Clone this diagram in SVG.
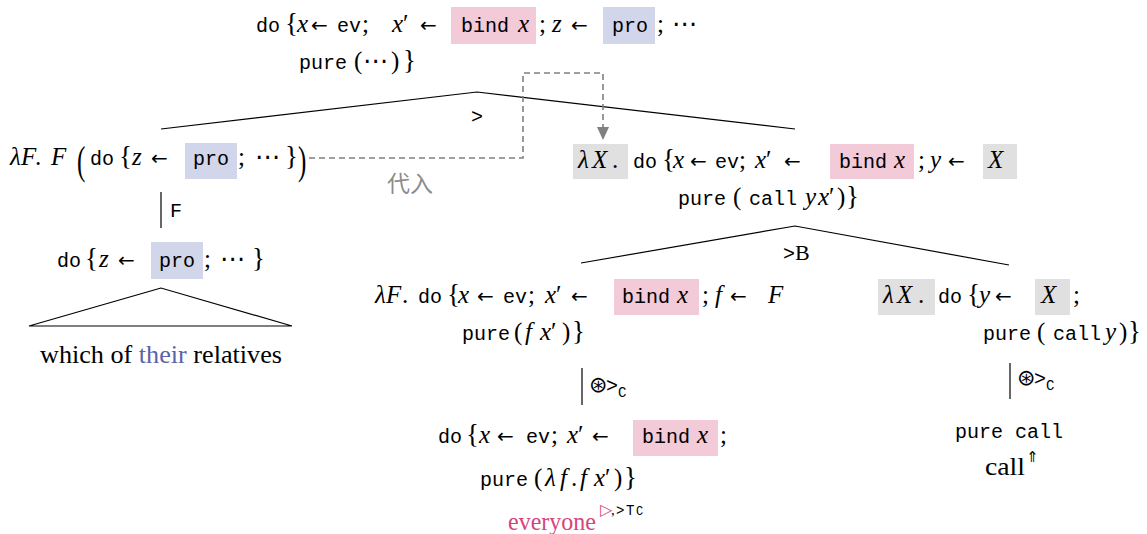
<svg xmlns="http://www.w3.org/2000/svg" width="1147" height="534" viewBox="0 0 1147 534">
<defs>
<style>
.tt{font-family:"Liberation Mono",monospace;font-size:20px;fill:#000}
.mi{font-family:"Liberation Serif",serif;font-style:italic;font-size:25px;fill:#000}
.rm{font-family:"Liberation Serif",serif;font-size:25px;fill:#000}
.br{font-family:"Liberation Serif",serif;font-size:27px;fill:#000}
.sy{font-family:"DejaVu Sans",sans-serif;font-size:20px;fill:#000}
.dt{font-family:"DejaVu Sans",sans-serif;font-size:25px;fill:#000}
.pk{fill:#f3cad8}
.bl{fill:#d1d6ea}
.gy{fill:#e0e0e0}
.edge{stroke:#000;stroke-width:1.2;fill:none}
.dash{stroke:#808080;stroke-width:1.6;fill:none;stroke-dasharray:6 4}
</style>
</defs>
<rect width="1147" height="534" fill="#fff"/>

<g id="connectors">
<path class="edge" d="M161,129 L477,92 L795,129"/>
<path class="edge" d="M581,263 L795,226 L1009,265"/>
<line class="edge" x1="161" y1="192" x2="161" y2="228"/>
<line class="edge" x1="582" y1="368" x2="582" y2="405"/>
<line class="edge" x1="1010" y1="363" x2="1010" y2="399"/>
<polygon class="edge" points="161,288 29,326 292,326"/>
<path class="dash" d="M309,158 H523 V73 H603 V127"/>
<path d="M597,127 L609,127 L603,140 Z" fill="#808080"/>
<text class="tt" x="471" y="123">&gt;</text>
<text x="783" y="260"><tspan class="tt">&gt;</tspan><tspan class="rm" style="font-size:22px">B</tspan></text>
<text x="170" y="217" class="tt">F</text>
<text x="387" y="192" style="font-family:'Noto Sans CJK SC',sans-serif;font-size:23px;fill:#8c8c8c">代入</text>
<text y="392"><tspan class="sy" x="589" style="font-size:22px">⊛</tspan><tspan class="tt" x="606">&gt;</tspan><tspan class="tt" x="618" style="font-size:14px" dy="5">C</tspan></text>
<text y="385"><tspan class="sy" x="1017" style="font-size:22px">⊛</tspan><tspan class="tt" x="1034">&gt;</tspan><tspan class="tt" x="1046" style="font-size:14px" dy="5">C</tspan></text>
</g>

<g id="node-top">
<rect class="pk" x="451" y="7" width="85" height="37"/>
<rect class="bl" x="603" y="7" width="52" height="37"/>
<text y="32"><tspan class="tt" x="256">do</tspan><tspan class="br" x="285">{</tspan><tspan class="mi" x="297">x</tspan><tspan class="sy" x="311">←</tspan><tspan class="tt" x="337">ev</tspan><tspan class="rm" x="362">;</tspan><tspan class="mi" x="392">x</tspan><tspan class="rm" x="403">′</tspan><tspan class="sy" x="420">←</tspan><tspan class="tt" x="461">bind</tspan><tspan class="mi" x="518">x</tspan><tspan class="rm" x="539">;</tspan><tspan class="mi" x="552">z</tspan><tspan class="sy" x="571">←</tspan><tspan class="tt" x="612">pro</tspan><tspan class="rm" x="657">;</tspan><tspan class="dt" x="672">⋯</tspan></text>
<text y="69"><tspan class="tt" x="299">pure</tspan><tspan class="rm" x="354">(</tspan><tspan class="dt" x="363">⋯</tspan><tspan class="rm" x="391">)</tspan><tspan class="br" x="403">}</tspan></text>
</g>

<g id="node-left">
<rect class="bl" x="185" y="143" width="52" height="36"/>
<text y="165"><tspan class="mi" x="10">λ</tspan><tspan class="mi" x="21">F</tspan><tspan class="rm" x="35">.</tspan><tspan class="mi" x="51">F</tspan><tspan class="tt" x="90">do</tspan><tspan class="br" x="119">{</tspan><tspan class="mi" x="132">z</tspan><tspan class="sy" x="151">←</tspan><tspan class="tt" x="193">pro</tspan><tspan class="rm" x="238">;</tspan><tspan class="dt" x="255">⋯</tspan><tspan class="br" x="285">}</tspan></text>
<text class="rm" transform="translate(77,174) scale(1,1.6)">(</text>
<text class="rm" transform="translate(298,174) scale(1,1.6)">)</text>
</g>

<g id="node-left-f">
<rect class="bl" x="151" y="242" width="52" height="37"/>
<text y="267"><tspan class="tt" x="57">do</tspan><tspan class="br" x="85">{</tspan><tspan class="mi" x="99">z</tspan><tspan class="sy" x="118">←</tspan><tspan class="tt" x="159">pro</tspan><tspan class="rm" x="204">;</tspan><tspan class="dt" x="220">⋯</tspan><tspan class="br" x="252">}</tspan></text>
</g>

<g id="node-left-leaf">
<text class="rm" x="40" y="363" textLength="242" lengthAdjust="spacingAndGlyphs">which of <tspan fill="#5a62a8">their</tspan> relatives</text>
</g>

<g id="node-mid">
<rect class="gy" x="573" y="144" width="55" height="35"/>
<rect class="pk" x="830" y="144" width="84" height="35"/>
<rect class="gy" x="983" y="144" width="34" height="35"/>
<text y="168"><tspan class="mi" x="578">λ</tspan><tspan class="mi" x="592">X</tspan><tspan class="rm" x="612">.</tspan><tspan class="tt" x="633">do</tspan><tspan class="br" x="662">{</tspan><tspan class="mi" x="673">x</tspan><tspan class="sy" x="690">←</tspan><tspan class="tt" x="715">ev</tspan><tspan class="rm" x="739">;</tspan><tspan class="mi" x="755">x</tspan><tspan class="rm" x="766">′</tspan><tspan class="sy" x="784">←</tspan><tspan class="tt" x="839">bind</tspan><tspan class="mi" x="894">x</tspan><tspan class="rm" x="918">;</tspan><tspan class="mi" x="930">y</tspan><tspan class="sy" x="948">←</tspan><tspan class="mi" x="988">X</tspan></text>
<text y="205"><tspan class="tt" x="678">pure</tspan><tspan class="rm" x="733">(</tspan><tspan class="tt" x="749">call</tspan><tspan class="mi" x="805">y</tspan><tspan class="mi" x="818">x</tspan><tspan class="rm" x="829">′</tspan><tspan class="rm" x="837">)</tspan><tspan class="br" x="846">}</tspan></text>
</g>

<g id="node-lower-left">
<rect class="pk" x="614" y="279" width="85" height="36"/>
<text y="303"><tspan class="mi" x="375">λ</tspan><tspan class="mi" x="386">F</tspan><tspan class="rm" x="402">.</tspan><tspan class="tt" x="418">do</tspan><tspan class="br" x="447">{</tspan><tspan class="mi" x="458">x</tspan><tspan class="sy" x="477">←</tspan><tspan class="tt" x="503">ev</tspan><tspan class="rm" x="528">;</tspan><tspan class="mi" x="545">x</tspan><tspan class="rm" x="556">′</tspan><tspan class="sy" x="571">←</tspan><tspan class="tt" x="622">bind</tspan><tspan class="mi" x="677">x</tspan><tspan class="rm" x="702">;</tspan><tspan class="mi" x="715">f</tspan><tspan class="sy" x="730">←</tspan><tspan class="mi" x="768">F</tspan></text>
<text y="340"><tspan class="tt" x="462">pure</tspan><tspan class="rm" x="514">(</tspan><tspan class="mi" x="525">f</tspan><tspan class="mi" x="540">x</tspan><tspan class="rm" x="551">′</tspan><tspan class="rm" x="562">)</tspan><tspan class="br" x="572">}</tspan></text>
</g>

<g id="node-lower-left-c">
<rect class="pk" x="633" y="420" width="85" height="36"/>
<text y="443"><tspan class="tt" x="438">do</tspan><tspan class="br" x="466">{</tspan><tspan class="mi" x="479">x</tspan><tspan class="sy" x="497">←</tspan><tspan class="tt" x="526">ev</tspan><tspan class="rm" x="551">;</tspan><tspan class="mi" x="567">x</tspan><tspan class="rm" x="578">′</tspan><tspan class="sy" x="592">←</tspan><tspan class="tt" x="642">bind</tspan><tspan class="mi" x="697">x</tspan><tspan class="rm" x="720">;</tspan></text>
<text y="486"><tspan class="tt" x="480">pure</tspan><tspan class="rm" x="534">(</tspan><tspan class="mi" x="545">λ</tspan><tspan class="mi" x="560">f</tspan><tspan class="rm" x="571">.</tspan><tspan class="mi" x="580">f</tspan><tspan class="mi" x="594">x</tspan><tspan class="rm" x="605">′</tspan><tspan class="rm" x="614">)</tspan><tspan class="br" x="624">}</tspan></text>
<text y="530"><tspan class="rm" x="508" style="fill:#d6457b" textLength="88" lengthAdjust="spacingAndGlyphs">everyone</tspan></text>
<text y="515"><tspan class="sy" x="600" style="font-size:16px;fill:#d6457b">▷</tspan><tspan class="rm" x="611" style="font-size:15px">,</tspan><tspan class="tt" x="616" style="font-size:14px">&gt;</tspan><tspan class="tt" x="626" style="font-size:14px">T</tspan><tspan class="tt" x="636" style="font-size:12px">C</tspan></text>
</g>

<g id="node-lower-right">
<rect class="gy" x="878" y="279" width="57" height="36"/>
<rect class="gy" x="1035" y="279" width="35" height="36"/>
<text y="303"><tspan class="mi" x="883">λ</tspan><tspan class="mi" x="897">X</tspan><tspan class="rm" x="918">.</tspan><tspan class="tt" x="938">do</tspan><tspan class="br" x="967">{</tspan><tspan class="mi" x="979">y</tspan><tspan class="sy" x="995">←</tspan><tspan class="mi" x="1041">X</tspan><tspan class="rm" x="1073">;</tspan></text>
<text y="340"><tspan class="tt" x="983">pure</tspan><tspan class="rm" x="1037">(</tspan><tspan class="tt" x="1053">call</tspan><tspan class="mi" x="1105">y</tspan><tspan class="rm" x="1119">)</tspan><tspan class="br" x="1128">}</tspan></text>
</g>

<g id="node-lower-right-c">
<text class="tt" x="955" y="438">pure call</text>
<text y="475"><tspan class="rm" x="985" textLength="40" lengthAdjust="spacingAndGlyphs">call</tspan></text>
<text class="sy" x="1026" y="462" style="font-size:15px">⇑</text>
</g>
</svg>
